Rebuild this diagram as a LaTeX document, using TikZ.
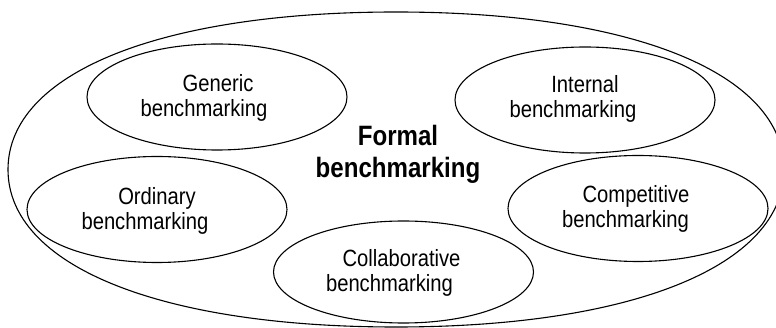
\documentclass[tikz,border=0pt]{standalone}
\usepackage{fontspec}
\setmainfont{Liberation Sans}[FakeStretch=0.86]
\usetikzlibrary{shapes.geometric}
\begin{document}
\begin{tikzpicture}[x=1pt,y=-1pt,
  outline/.style={draw=black,line width=1.1pt},
  oval/.style={outline,ellipse,inner sep=0pt,minimum width=260pt,minimum height=106pt},
  lbl/.style={anchor=base,inner sep=0pt,font=\fontsize{23.5}{25}\selectfont},
  title/.style={anchor=base,inner sep=0pt,font=\fontsize{28}{32}\selectfont\bfseries}]
\useasboundingbox (0,0) rectangle (776,328);
% outer boundary (slightly squarish oval)
\coordinate (fr) at (784,169.5);
\coordinate (fb) at (396,327);
\coordinate (fl) at (8,169.5);
\coordinate (ft) at (396,12);
\draw[outline] (fr) .. controls (784,265.6) and (632.7,327) .. (fb)
  .. controls (159.3,327) and (8,265.6) .. (fl)
  .. controls (8,73.4) and (159.3,12) .. (ft)
  .. controls (632.7,12) and (784,73.4) .. (fr) -- cycle;
\node[oval] (generic) at (217,97) {};
\node[oval] (internal) at (585,100) {};
\node[oval] (ordinary) at (157,209.5) {};
\node[oval] (competitive) at (638,208.5) {};
\node[oval,minimum height=102pt] (collab) at (403.5,272) {};
\node[title] (formaltxt) at (398,146) {\begin{tabular}[t]{@{}c@{}}Formal\\benchmarking\end{tabular}};
\node[lbl] (generictxt) at (204,92) {\begin{tabular}[t]{@{}c@{}}\hspace*{28pt}Generic\\benchmarking\end{tabular}};
\node[lbl] (internaltxt) at (573,93) {\begin{tabular}[t]{@{}c@{}}\hspace*{24pt}Internal\\benchmarking\end{tabular}};
\node[lbl] (ordinarytxt) at (145,205) {\begin{tabular}[t]{@{}c@{}}\hspace*{24pt}Ordinary\\benchmarking\end{tabular}};
\node[lbl] (competitivetxt) at (625.5,203) {\begin{tabular}[t]{@{}c@{}}\hspace*{21pt}Competitive\\benchmarking\end{tabular}};
\node[lbl] (collabtxt) at (389.5,267) {\begin{tabular}[t]{@{}c@{}}\hspace*{24pt}Collaborative\\benchmarking\end{tabular}};
\end{tikzpicture}
\end{document}
